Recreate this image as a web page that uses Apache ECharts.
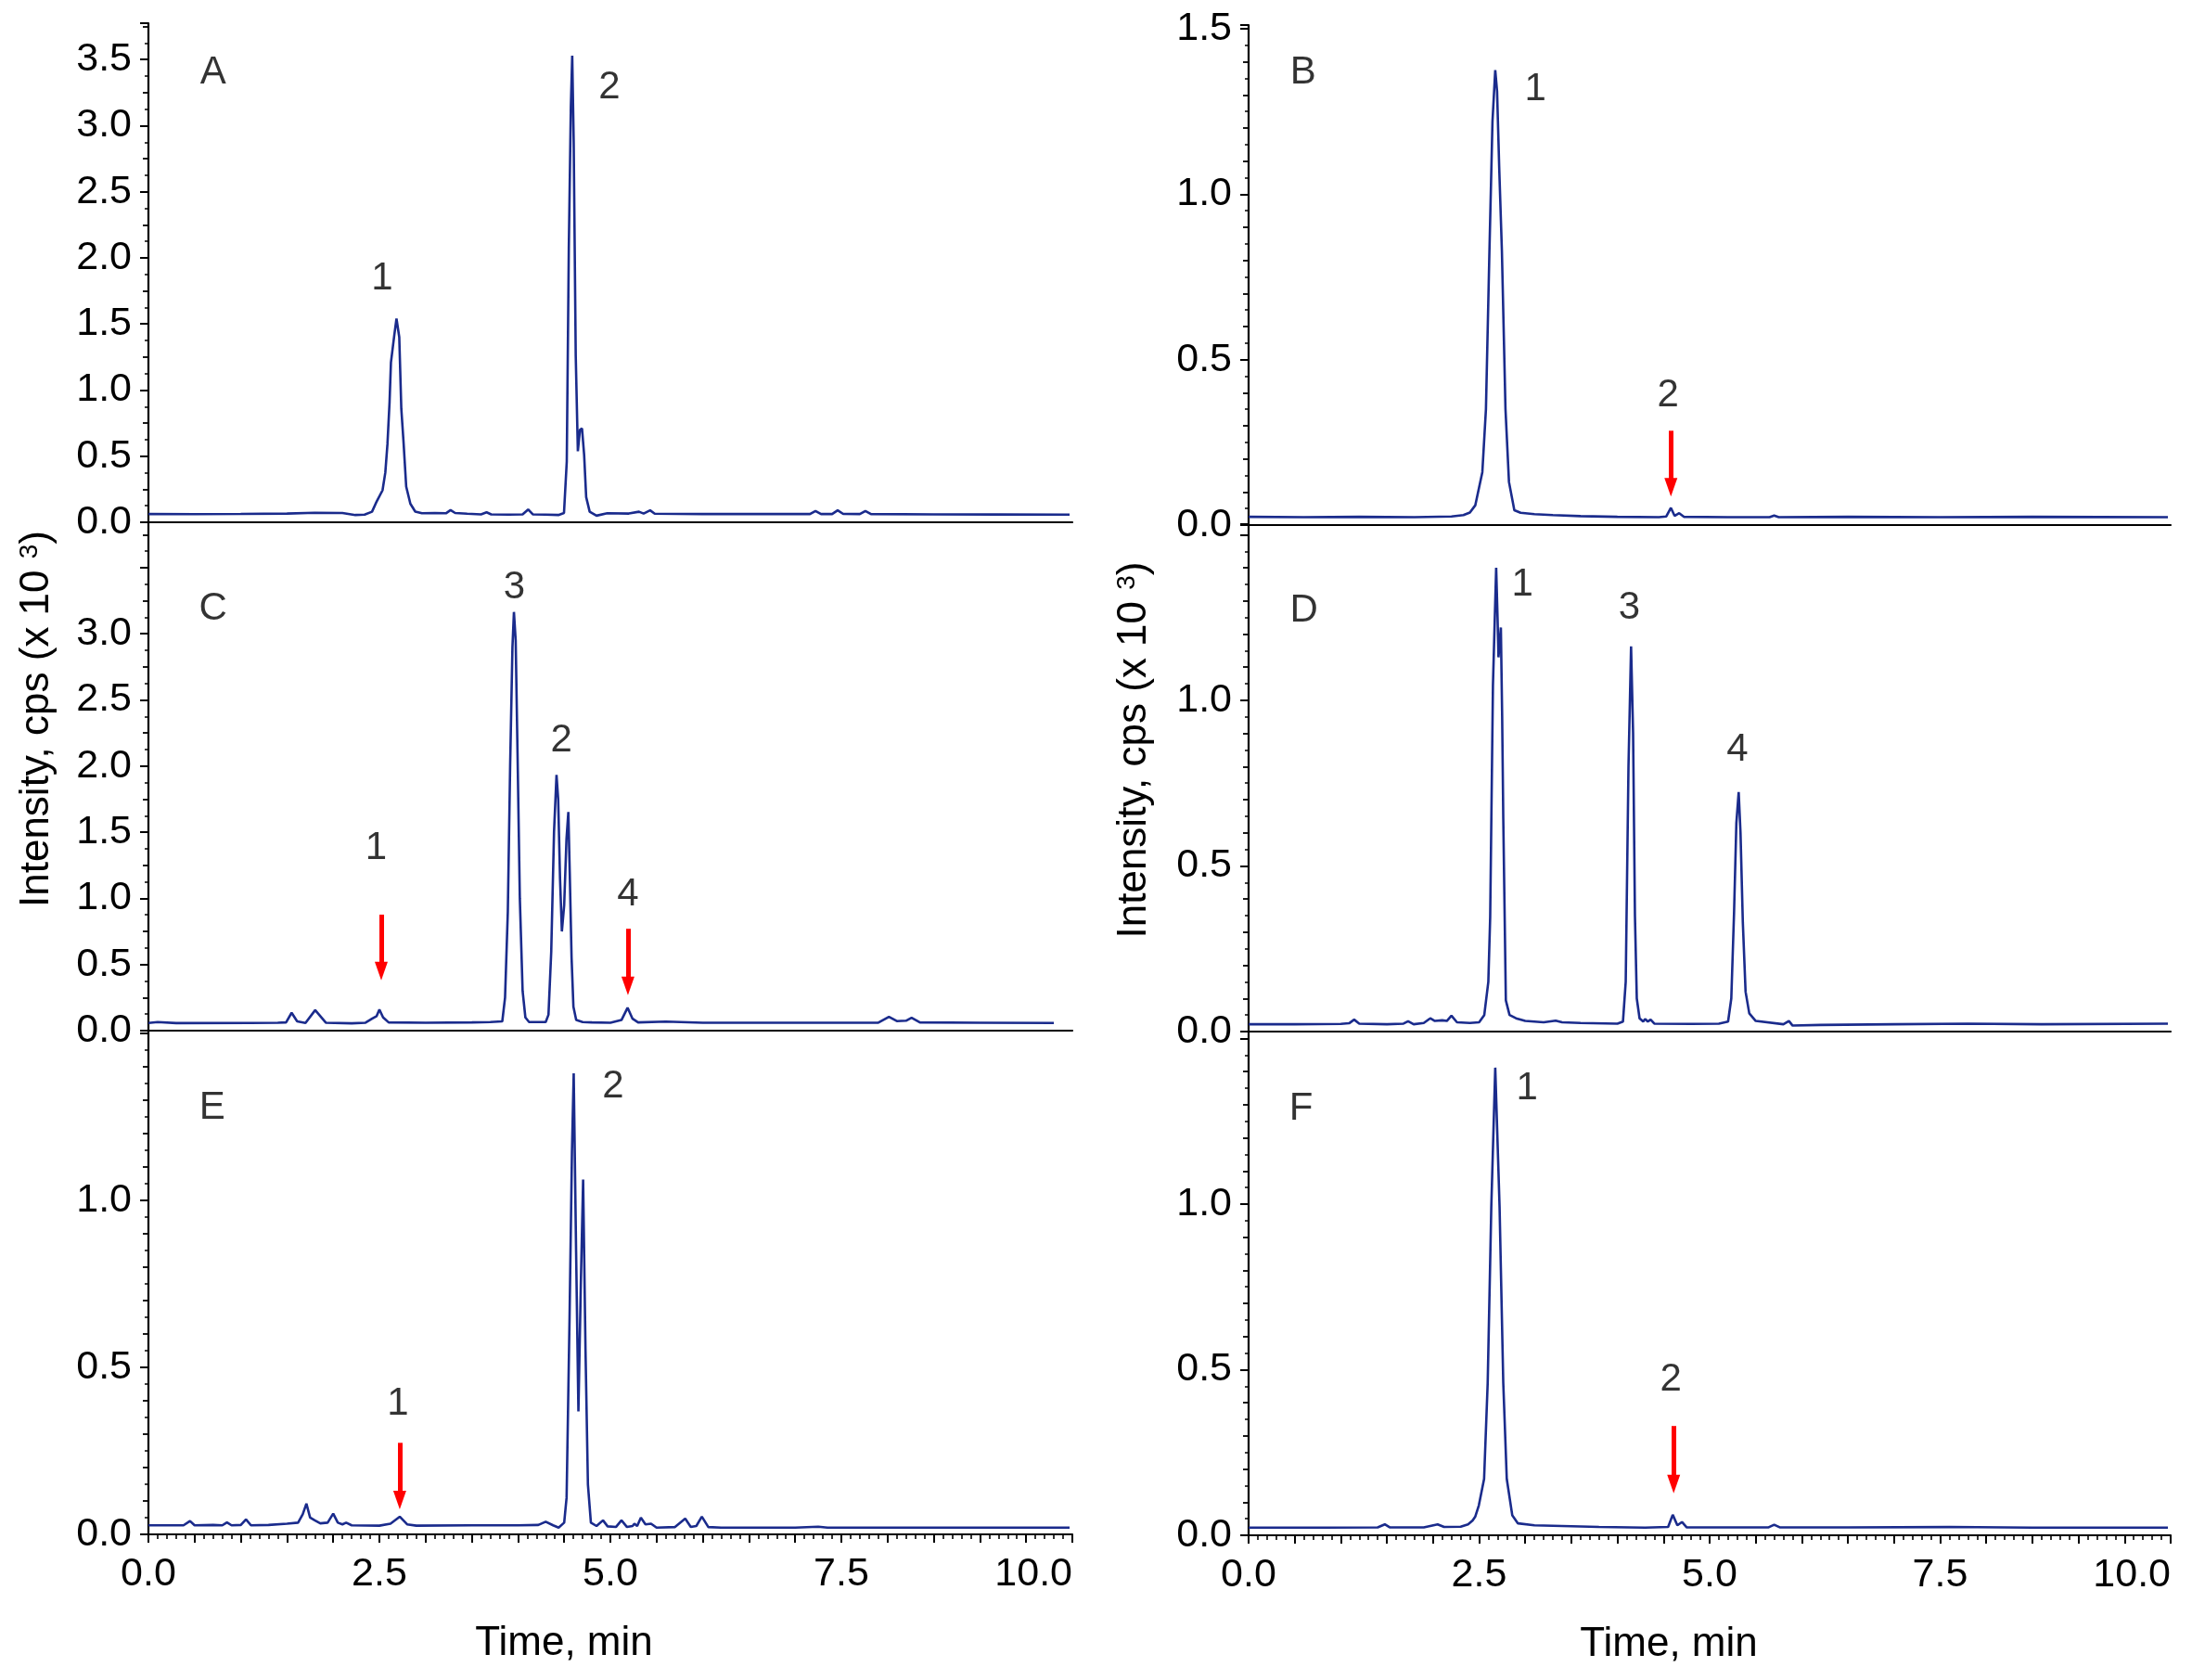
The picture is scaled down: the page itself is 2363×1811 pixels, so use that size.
<!DOCTYPE html>
<html>
<head>
<meta charset="utf-8">
<script src="https://cdn.jsdelivr.net/npm/echarts@6/dist/echarts.min.js"></script>
<style>
  html, body { margin: 0; padding: 0; background: #fff; }
  #chart { width: 2363px; height: 1811px; }
</style>
</head>
<body>
<div id="chart"></div>
<script>
// ─── Data: [time (min), intensity (x10^3 cps)] ───

const traceA = [
  [0, 0.062], [0.5, 0.061], [1.0, 0.063], [1.5, 0.066], [1.8, 0.072], [2.1, 0.07], [2.24, 0.055],
  [2.34, 0.058], [2.42, 0.08], [2.473, 0.161], [2.534, 0.242], [2.564, 0.376], [2.587, 0.59],
  [2.61, 0.91], [2.625, 1.21], [2.662, 1.42], [2.685, 1.54], [2.715, 1.40], [2.737, 0.86],
  [2.76, 0.62], [2.79, 0.27], [2.835, 0.14], [2.888, 0.081], [2.96, 0.068], [3.1, 0.07],
  [3.22, 0.068], [3.27, 0.092], [3.32, 0.07], [3.45, 0.065], [3.6, 0.06], [3.66, 0.075],
  [3.71, 0.06], [3.9, 0.058], [4.05, 0.06], [4.11, 0.097], [4.16, 0.06], [4.30, 0.058],
  [4.437, 0.055], [4.498, 0.07], [4.528, 0.46], [4.55, 2.07], [4.572, 3.14], [4.587, 3.53],
  [4.603, 2.87], [4.625, 1.26], [4.648, 0.537], [4.671, 0.70], [4.693, 0.71], [4.716, 0.51],
  [4.738, 0.19], [4.776, 0.08], [4.85, 0.05], [4.966, 0.068], [5.2, 0.066], [5.31, 0.08],
  [5.36, 0.066], [5.43, 0.09], [5.48, 0.065], [6.0, 0.062], [6.5, 0.062], [7.0, 0.063],
  [7.16, 0.062], [7.22, 0.085], [7.28, 0.062], [7.40, 0.062], [7.46, 0.09], [7.52, 0.063],
  [7.70, 0.062], [7.76, 0.085], [7.82, 0.062], [8.5, 0.06], [9.2, 0.059], [9.97, 0.058]
];

const traceB = [
  [0, 0.025], [0.6, 0.024], [1.2, 0.025], [1.8, 0.024], [2.2, 0.026], [2.33, 0.03], [2.40, 0.038],
  [2.459, 0.06], [2.535, 0.16], [2.574, 0.35], [2.612, 0.83], [2.645, 1.22], [2.675, 1.375],
  [2.695, 1.31], [2.718, 1.08], [2.747, 0.83], [2.786, 0.35], [2.824, 0.13], [2.882, 0.045],
  [2.95, 0.037], [3.1, 0.033], [3.3, 0.03], [3.6, 0.027], [4.0, 0.025], [4.45, 0.024],
  [4.53, 0.026], [4.58, 0.052], [4.62, 0.028], [4.67, 0.036], [4.72, 0.025], [5.2, 0.024],
  [5.65, 0.024], [5.7, 0.029], [5.75, 0.024], [6.5, 0.025], [7.5, 0.024], [8.5, 0.025], [9.97, 0.024]
];

const traceC = [
  [0, 0.058], [0.1, 0.065], [0.3, 0.057], [1.1, 0.058], [1.4, 0.06], [1.49, 0.062], [1.55, 0.135],
  [1.61, 0.07], [1.70, 0.058], [1.805, 0.155], [1.92, 0.06], [2.2, 0.055], [2.35, 0.06],
  [2.42, 0.09], [2.47, 0.11], [2.50, 0.16], [2.54, 0.1], [2.6, 0.062], [3.0, 0.06], [3.5, 0.062],
  [3.7, 0.065], [3.83, 0.07], [3.86, 0.25], [3.89, 0.9], [3.915, 2.0], [3.94, 2.9], [3.956, 3.165],
  [3.975, 2.95], [3.995, 2.1], [4.02, 1.0], [4.05, 0.3], [4.08, 0.1], [4.12, 0.065], [4.30, 0.065],
  [4.33, 0.12], [4.36, 0.6], [4.39, 1.5], [4.417, 1.933], [4.435, 1.75], [4.455, 1.15],
  [4.475, 0.75], [4.485, 0.74], [4.50, 0.95], [4.525, 1.45], [4.545, 1.653], [4.56, 1.2],
  [4.58, 0.55], [4.60, 0.18], [4.63, 0.08], [4.7, 0.065], [4.8, 0.062], [5.0, 0.06], [5.12, 0.08],
  [5.186, 0.173], [5.24, 0.09], [5.3, 0.062], [5.6, 0.068], [6.0, 0.06], [7.0, 0.06], [7.9, 0.06],
  [8.015, 0.105], [8.1, 0.072], [8.2, 0.075], [8.26, 0.097], [8.35, 0.062], [9.0, 0.06], [9.8, 0.058]
];

const traceD = [
  [0, 0.022], [0.5, 0.022], [1.0, 0.023], [1.09, 0.025], [1.145, 0.036], [1.2, 0.024], [1.5, 0.022],
  [1.68, 0.024], [1.73, 0.031], [1.79, 0.022], [1.9, 0.026], [1.97, 0.04], [2.02, 0.032],
  [2.1, 0.034], [2.15, 0.032], [2.2, 0.048], [2.26, 0.028], [2.40, 0.026], [2.50, 0.028],
  [2.556, 0.05], [2.60, 0.15], [2.62, 0.345], [2.65, 1.045], [2.685, 1.40], [2.70, 1.25],
  [2.71, 1.13], [2.736, 1.22], [2.75, 0.95], [2.762, 0.645], [2.79, 0.094], [2.83, 0.05],
  [2.9, 0.04], [3.0, 0.032], [3.2, 0.028], [3.33, 0.033], [3.4, 0.028], [3.6, 0.026], [4.0, 0.024],
  [4.06, 0.03], [4.09, 0.15], [4.12, 0.8], [4.148, 1.163], [4.17, 0.9], [4.19, 0.35], [4.21, 0.1],
  [4.24, 0.04], [4.28, 0.03], [4.3, 0.038], [4.33, 0.03], [4.36, 0.036], [4.4, 0.024], [4.8, 0.023],
  [5.1, 0.024], [5.2, 0.03], [5.235, 0.1], [5.265, 0.36], [5.29, 0.63], [5.315, 0.723],
  [5.335, 0.6], [5.36, 0.33], [5.39, 0.12], [5.43, 0.055], [5.5, 0.032], [5.8, 0.022],
  [5.86, 0.032], [5.9, 0.018], [6.2, 0.02], [7.0, 0.022], [7.8, 0.024], [8.6, 0.022], [9.97, 0.024]
];

const traceE = [
  [0, 0.027], [0.38, 0.027], [0.45, 0.04], [0.5, 0.027], [0.7, 0.028], [0.8, 0.027], [0.85, 0.036],
  [0.9, 0.027], [1.0, 0.028], [1.056, 0.045], [1.11, 0.027], [1.3, 0.028], [1.5, 0.032],
  [1.62, 0.035], [1.67, 0.06], [1.71, 0.092], [1.75, 0.05], [1.80, 0.042], [1.86, 0.033],
  [1.94, 0.035], [2.0, 0.062], [2.05, 0.035], [2.1, 0.03], [2.14, 0.035], [2.2, 0.027],
  [2.5, 0.026], [2.62, 0.032], [2.72, 0.053], [2.8, 0.03], [2.9, 0.026], [3.5, 0.027], [4.0, 0.027],
  [4.22, 0.028], [4.30, 0.038], [4.38, 0.027], [4.44, 0.02], [4.50, 0.035], [4.526, 0.11],
  [4.558, 0.647], [4.584, 1.144], [4.603, 1.38], [4.629, 0.846], [4.654, 0.368], [4.68, 0.746],
  [4.705, 1.062], [4.731, 0.548], [4.757, 0.149], [4.789, 0.035], [4.85, 0.025], [4.92, 0.042],
  [4.97, 0.024], [5.06, 0.022], [5.12, 0.042], [5.18, 0.022], [5.24, 0.025], [5.26, 0.032],
  [5.29, 0.025], [5.33, 0.05], [5.38, 0.03], [5.44, 0.032], [5.5, 0.02], [5.7, 0.022],
  [5.81, 0.047], [5.87, 0.022], [5.93, 0.025], [5.99, 0.053], [6.06, 0.022], [6.2, 0.02],
  [7.0, 0.02], [7.25, 0.023], [7.35, 0.02], [8.5, 0.02], [9.97, 0.02]
];

const traceF = [
  [0, 0.023], [0.8, 0.023], [1.4, 0.024], [1.477, 0.033], [1.53, 0.024], [1.9, 0.024], [2.05, 0.033],
  [2.12, 0.025], [2.30, 0.026], [2.38, 0.033], [2.43, 0.045], [2.459, 0.057], [2.497, 0.09],
  [2.554, 0.17], [2.593, 0.46], [2.632, 0.99], [2.675, 1.412], [2.722, 0.99], [2.762, 0.46],
  [2.8, 0.17], [2.86, 0.06], [2.921, 0.036], [3.1, 0.03], [3.4, 0.028], [3.8, 0.025], [4.3, 0.023],
  [4.55, 0.025], [4.60, 0.062], [4.65, 0.03], [4.70, 0.04], [4.75, 0.024], [5.2, 0.024],
  [5.64, 0.024], [5.70, 0.032], [5.76, 0.024], [6.5, 0.024], [7.6, 0.025], [8.5, 0.023], [9.97, 0.023]
];

// peak / panel labels: [text, time, intensity]
const labelsA = [['A', 0.70, 3.40], ['1', 2.53, 1.84], ['2', 4.99, 3.29]];
const labelsB = [['B', 0.59, 1.367], ['1', 3.11, 1.317], ['2', 4.55, 0.39]];
const labelsC = [['C', 0.70, 3.19], ['1', 2.465, 1.38], ['3', 3.96, 3.35], ['2', 4.47, 2.19], ['4', 5.19, 1.03]];
const labelsD = [['D', 0.60, 1.27], ['1', 2.97, 1.35], ['3', 4.13, 1.28], ['4', 5.30, 0.85]];
const labelsE = [['E', 0.69, 1.275], ['1', 2.70, 0.39], ['2', 5.03, 1.34]];
const labelsF = [['F', 0.57, 1.286], ['1', 3.02, 1.35], ['2', 4.58, 0.47]];

// red arrows: [time, intensity at tail, intensity at tip]
const arrowsB = [[4.58, 0.285, 0.086]];
const arrowsC = [[2.52, 0.877, 0.38], [5.19, 0.77, 0.268]];
const arrowsE = [[2.72, 0.274, 0.075]];
const arrowsF = [[4.61, 0.33, 0.127]];

const xTickLabels = [0, 2.5, 5, 7.5, 10];

// ─── Layout ────────────────────────────────────────

const FONT = 'Liberation Sans, Arial, Helvetica, sans-serif';
const TRACE = '#1a2b8c';

const panels = [
  { trace: traceA, labels: labelsA, arrows: [],      box: [160, 25, 996, 538],   yMax: 3.775, yShowMax: 3.5, fine: 0.25 },
  { trace: traceC, labels: labelsC, arrows: arrowsC, box: [160, 563, 996, 548],  yMax: 3.843, yShowMax: 3.0, fine: 0.25, yTitle: { gap: 98, shift: 124 } },
  { trace: traceE, labels: labelsE, arrows: arrowsE, box: [160, 1111, 996, 543], yMax: 1.508, yShowMax: 1.0, fine: 0.1, xTitle: 100 },
  { trace: traceB, labels: labelsB, arrows: arrowsB, box: [1346, 27, 994, 539],  yMax: 1.511, yShowMax: 1.5, fine: 0.1 },
  { trace: traceD, labels: labelsD, arrows: [],      box: [1346, 565, 994, 547], yMax: 1.532, yShowMax: 1.0, fine: 0.1, yTitle: { gap: 101, shift: 60 } },
  { trace: traceF, labels: labelsF, arrows: arrowsF, box: [1346, 1112, 994, 543], yMax: 1.521, yShowMax: 1.0, fine: 0.1, xTitle: 88 }
];

const near = (a, b) => Math.abs(a - b) < 1e-6;

const grid = [], xAxis = [], yAxis = [], series = [];

panels.forEach((p, i) => {
  const [left, top, width, height] = p.box;
  const bottom = p.xTitle != null;
  grid.push({ left, top, width, height, containLabel: false });

  xAxis.push({
    gridIndex: i, type: 'value', min: 0, max: 10, interval: 0.5,
    axisLine: { show: true, onZero: false, lineStyle: { color: '#000', width: 2.2 } },
    axisTick: { show: bottom, length: 9, lineStyle: { color: '#000', width: 2 } },
    minorTick: { show: bottom, splitNumber: 5, length: 5, lineStyle: { color: '#000', width: 1.6 } },
    axisLabel: {
      show: bottom, margin: 22, fontSize: 43, fontFamily: FONT, color: '#000',
      alignMaxLabel: 'right',
      formatter: v => xTickLabels.some(t => near(t, v)) ? v.toFixed(1) : ''
    },
    splitLine: { show: false },
    name: bottom ? 'Time, min' : '',
    nameLocation: 'middle', nameGap: 96,
    nameTextStyle: { fontSize: 44, fontFamily: FONT, color: '#000', padding: [0, p.xTitle || 0, 0, 0] }
  });

  // main axis: line, labels, ticks every 0.5
  const main = {
    gridIndex: i, type: 'value', position: 'left', min: 0, max: p.yMax, interval: 0.5,
    axisLine: { show: true, onZero: false, lineStyle: { color: '#000', width: 2.2 } },
    axisTick: { show: true, length: 9, lineStyle: { color: '#000', width: 2 } },
    axisLabel: {
      margin: 18, fontSize: 43, fontFamily: FONT, color: '#000',
      formatter: v => (near(v * 2, Math.round(v * 2)) && v <= p.yShowMax + 1e-6) ? v.toFixed(1) : ''
    },
    splitLine: { show: false }
  };
  if (p.yTitle) {
    Object.assign(main, {
      name: 'Intensity, cps (x 10 {sup|3})',
      nameLocation: 'middle', nameGap: p.yTitle.gap, nameRotate: 90,
      nameTextStyle: {
        fontSize: 44, fontFamily: FONT, color: '#000', padding: [0, 0, 0, p.yTitle.shift],
        rich: { sup: { fontSize: 28, fontFamily: FONT, color: '#000', verticalAlign: 'top' } }
      }
    });
  }
  const mainIndex = yAxis.length;
  yAxis.push(main);

  // secondary axis only for the finer ticks
  yAxis.push({
    gridIndex: i, type: 'value', position: 'left', min: 0, max: p.yMax, interval: p.fine,
    axisLine: { show: false },
    axisTick: { show: true, length: 6, lineStyle: { color: '#000', width: 1.8 } },
    minorTick: { show: true, splitNumber: 2, length: 4, lineStyle: { color: '#000', width: 1.5 } },
    axisLabel: { show: false },
    splitLine: { show: false }
  });

  const pxToValue = p.yMax / height;
  series.push({
    type: 'line', xAxisIndex: i, yAxisIndex: mainIndex,
    data: p.trace, showSymbol: false, symbol: 'none',
    lineStyle: { color: TRACE, width: 2.6 },
    animation: false, silent: true,
    markLine: p.arrows.length ? {
      silent: true, animation: false,
      symbol: ['none', 'triangle'], symbolSize: [14, 20],
      lineStyle: { color: '#ff0000', width: 5, type: 'solid' },
      itemStyle: { color: '#ff0000' },
      label: { show: false },
      emphasis: { disabled: true },
      data: p.arrows.map(([t, v0, tip]) => [
        { coord: [t, v0] },
        { coord: [t, tip + 10 * pxToValue] }
      ])
    } : undefined
  });

  series.push({
    type: 'scatter', xAxisIndex: i, yAxisIndex: mainIndex,
    symbolSize: 1, itemStyle: { color: 'rgba(0,0,0,0)' },
    silent: true, animation: false,
    label: {
      show: true, position: 'inside', formatter: '{b}',
      fontSize: 42, fontFamily: FONT, color: '#000'
    },
    data: p.labels.map(([txt, t, v]) => ({ name: txt, value: [t, v] }))
  });
});

const chart = echarts.init(document.getElementById('chart'));
chart.setOption({
  backgroundColor: '#fff',
  animation: false,
  grid, xAxis, yAxis, series
});
</script>
</body>
</html>
